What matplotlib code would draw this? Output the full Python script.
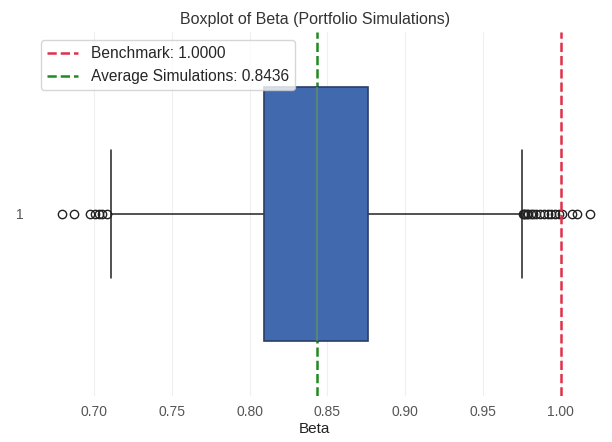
import matplotlib.pyplot as plt
import seaborn as sns

# summary statistics of simulated portfolio betas
q1 = 0.809
median = 0.843
q3 = 0.8763
whisker_low = 0.7109
whisker_high = 0.9748
low_outliers = [0.6795, 0.6875, 0.6975, 0.7005, 0.7030, 0.7055, 0.7085]
high_outliers = [0.9758, 0.9765, 0.9772, 0.9780, 0.9790, 0.9805, 0.9820,
                 0.9840, 0.9865, 0.9890, 0.9915, 0.9935, 0.9960, 0.9985,
                 1.0005, 1.0074, 1.0106, 1.0190]

benchmark = 1.0
average_sim = 0.8436

sns.set_style('whitegrid')
plt.rcParams['font.family'] = ['Liberation Sans', 'DejaVu Sans']

fig, ax = plt.subplots(figsize=(6.12, 4.42), dpi=100)
fig.subplots_adjust(left=0.054, right=0.975, top=0.927, bottom=0.105)

stats = [{
    'label': '1',
    'q1': q1, 'med': median, 'q3': q3,
    'whislo': whisker_low, 'whishi': whisker_high,
    'fliers': low_outliers + high_outliers,
}]
ax.bxp(stats, positions=[1], widths=0.7, vert=False, patch_artist=True,
       boxprops=dict(facecolor='#4169ad', edgecolor='#2b3d66', linewidth=1.2,
                     zorder=3),
       medianprops=dict(color='#5f8a6c', linewidth=1.2, zorder=4),
       whiskerprops=dict(color='#222222', linewidth=1.1),
       capprops=dict(color='#222222', linewidth=1.1),
       flierprops=dict(marker='o', markerfacecolor='none',
                       markeredgecolor='#222222', markersize=6))

# reference lines sit behind the box
ax.axvline(benchmark, color='#e0304a', linestyle='--', linewidth=1.8,
           label=f'Benchmark: {benchmark:.4f}', zorder=2)
ax.axvline(average_sim, color='#1f8a1f', linestyle='--', linewidth=1.8,
           label=f'Average Simulations: {average_sim:.4f}', zorder=2)

ax.set_xlim(0.6609, 1.023)
ax.set_ylim(0.5, 1.5)
ax.set_xticks([0.70, 0.75, 0.80, 0.85, 0.90, 0.95, 1.00])
ax.grid(axis='y', visible=False)
ax.grid(axis='x', color='#efefef', linewidth=0.8)
for s in ax.spines.values():
    s.set_visible(False)
ax.tick_params(labelsize=10, labelcolor='#555555')

ax.set_title('Boxplot of Beta (Portfolio Simulations)', fontsize=11.5, color='#333333')
ax.set_xlabel('Beta', fontsize=11, color='#222222', labelpad=2)
leg = ax.legend(loc='upper left', fontsize=11.2, frameon=True)
leg.set_zorder(5)

fig.savefig('out.png')
